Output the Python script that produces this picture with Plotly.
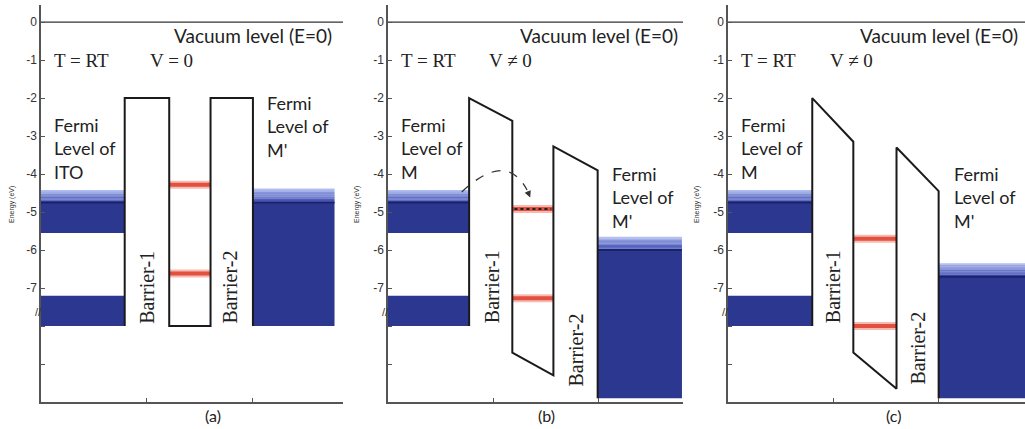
import plotly.graph_objects as go

# ---- energy-level data (eV), one entry per panel (a), (b), (c) ----
panel_labels = ["(a)", "(b)", "(c)"]
bias_labels = ["V = 0", "V \u2260 0", "V \u2260 0"]
left_contact_names = ["ITO", "M", "M"]

# x edges: contact | barrier-1 | well | barrier-2 | contact
edge_x = [
    [0.79, 1.21, 1.60, 2.00],
    [0.77, 1.18, 1.57, 1.99],
    [0.80, 1.19, 1.60, 2.00],
]
x_end = [2.85, 2.80, 2.82]
right_block_end = [2.77, 2.79, 2.82]

barrier1_top = [[-2.0, -2.0], [-2.0, -2.6], [-2.0, -3.15]]
well_bottom = [[-8.0, -8.0], [-8.7, -9.3], [-8.7, -9.65]]
barrier2_top = [[-2.0, -2.0], [-3.27, -3.9], [-3.3, -4.45]]

# left contact (same in all panels)
left_top = -4.42
left_fermi = -4.75
left_band_bottom = -5.55
left_lower_top = -7.2
left_bottom = -8.0

# right contact
right_top = [-4.38, -5.65, -6.35]
right_fermi = [-4.75, -6.0, -6.7]
right_bottom = [-8.0, -9.9, -9.9]

# trap levels inside the well
trap_upper = [-4.28, -4.92, -5.70]
trap_lower = [-6.62, -7.27, -8.00]

y_ticks = [0, -1, -2, -3, -4, -5, -6, -7, -8, -9]
y_tick_text = ["0", "-1", "-2", "-3", "-4", "-5", "-6", "-7", "", ""]

# ---- styling ----
DARK = "#2c378f"
FERMI_LINE = "#1b226a"
GRAD_TOP = (178, 192, 242)
GRAD_BOT = (58, 74, 178)
OUTLINE = "#1a1a1a"
AXIS = "#555555"
SANS = "Lato, Open Sans, sans-serif"
SERIF = "Liberation Serif, Times New Roman, serif"

W, H = 1025, 429
x_domains = [[41 / W, 343 / W], [388 / W, 683 / W], [728 / W, 1.0]]
y_domain = [1 - 402 / H, 1 - 5 / H]

fig = go.Figure()
shapes = []
annotations = []


def mix(c0, c1, t):
    return "rgb(%d,%d,%d)" % tuple(round(a + (b - a) * t) for a, b in zip(c0, c1))


def gradient(xr, yr, x0, x1, ytop, ybot, n=16):
    # stacked thin rectangles fading from light to medium blue
    step = (ytop - ybot) / n
    for k in range(n):
        t = (k / (n - 1)) ** 0.8
        shapes.append(dict(type="rect", xref=xr, yref=yr, layer="below",
                           x0=x0, x1=x1, y0=ytop - k * step, y1=ytop - (k + 1) * step - 0.005,
                           fillcolor=mix(GRAD_TOP, GRAD_BOT, t), line_width=0))


def rect(xr, yr, x0, x1, y0, y1, color):
    shapes.append(dict(type="rect", xref=xr, yref=yr, layer="below",
                       x0=x0, x1=x1, y0=y0, y1=y1, fillcolor=color, line_width=0))


for i in range(3):
    xr = "x" if i == 0 else "x%d" % (i + 1)
    yr = "y" if i == 0 else "y%d" % (i + 1)
    e0, e1, e2, e3 = edge_x[i]

    # vacuum level
    fig.add_trace(go.Scatter(x=[0, x_end[i]], y=[0, 0], mode="lines", xaxis=xr, yaxis=yr,
                             line=dict(color="#333333", width=1.2), hoverinfo="skip"))

    # left contact
    gradient(xr, yr, 0, e0, left_top, left_fermi)
    rect(xr, yr, 0, e0, left_fermi, left_band_bottom, DARK)
    rect(xr, yr, 0, e0, left_lower_top, left_bottom, DARK)
    fig.add_trace(go.Scatter(x=[0, e0], y=[left_fermi, left_fermi], mode="lines",
                             xaxis=xr, yaxis=yr, line=dict(color=FERMI_LINE, width=2),
                             hoverinfo="skip"))

    # right contact
    gradient(xr, yr, e3, right_block_end[i], right_top[i], right_fermi[i])
    rect(xr, yr, e3, right_block_end[i], right_fermi[i], right_bottom[i], DARK)
    fig.add_trace(go.Scatter(x=[e3, right_block_end[i]], y=[right_fermi[i]] * 2, mode="lines",
                             xaxis=xr, yaxis=yr, line=dict(color=FERMI_LINE, width=2),
                             hoverinfo="skip"))

    # trap levels in the well
    for lvl in (trap_upper[i], trap_lower[i]):
        fig.add_trace(go.Scatter(x=[e1, e2], y=[lvl, lvl], mode="lines", xaxis=xr, yaxis=yr,
                                 line=dict(color="rgba(242,140,128,0.6)", width=8),
                                 hoverinfo="skip"))
        fig.add_trace(go.Scatter(x=[e1, e2], y=[lvl, lvl], mode="lines", xaxis=xr, yaxis=yr,
                                 line=dict(color="#e2503f", width=4), hoverinfo="skip"))

    # barrier outline
    bx = [e0, e0, e1, e1, e2, e2, e3, e3]
    by = [left_bottom, barrier1_top[i][0], barrier1_top[i][1], well_bottom[i][0],
          well_bottom[i][1], barrier2_top[i][0], barrier2_top[i][1], right_bottom[i]]
    fig.add_trace(go.Scatter(x=bx, y=by, mode="lines", xaxis=xr, yaxis=yr,
                             line=dict(color=OUTLINE, width=2), hoverinfo="skip"))

    # text
    annotations += [
        dict(xref=xr, yref=yr, x=2.0, y=-0.34, text="Vacuum level (E=0)", showarrow=False,
             font=dict(family=SANS, size=19, color="#222")),
        dict(xref=xr, yref=yr, x=0.1, y=-1.0, text="T = RT", showarrow=False, xanchor="left",
             font=dict(family=SERIF, size=19, color="#222")),
        dict(xref=xr, yref=yr, x=[1.01, 0.94, 0.95][i], y=-1.0, text=bias_labels[i],
             showarrow=False, xanchor="left", font=dict(family=SERIF, size=19, color="#222")),
        dict(xref=xr, yref=yr, x=0.1, y=-3.32,
             text="Fermi<br>Level of<br>" + left_contact_names[i], showarrow=False,
             xanchor="left", align="left", font=dict(family=SANS, size=18, color="#222")),
        dict(xref=xr, yref=yr, x=[2.11, 2.11, 2.13][i], y=[-2.76, -4.63, -4.63][i],
             text="Fermi<br>Level of<br>M'", showarrow=False,
             xanchor="left", align="left", font=dict(family=SANS, size=18, color="#222")),
        dict(xref=xr, yref=yr, x=[1.0, 0.99, 1.0][i], y=-6.97, text="Barrier-1",
             showarrow=False, textangle=-90, font=dict(family=SERIF, size=20, color="#222")),
        dict(xref=xr, yref=yr, x=[1.78, 1.78, 1.80][i], y=[-6.97, -8.63, -8.58][i],
             text="Barrier-2", showarrow=False, textangle=-90,
             font=dict(family=SERIF, size=20, color="#222")),
        dict(xref=xr, yref="paper", x=[1.62, 1.5, 1.57][i], y=1 - 415 / H, text=panel_labels[i],
             showarrow=False, yanchor="middle",
             font=dict(family=SANS, size=16, color="#222")),
        dict(xref="paper", yref="paper", x=[12, 357, 697][i] / W, y=1 - 205 / H,
             xanchor="center", yanchor="middle",
             text="Energy (eV)", showarrow=False, textangle=-90,
             font=dict(family="Arial, sans-serif", size=7, color="#333")),
        dict(xref="paper", yref="paper", x=x_domains[i][0] - 3 / W, y=1 - 312 / H, text="//",
             xanchor="center", yanchor="middle",
             showarrow=False, font=dict(family="Arial, sans-serif", size=11, color="#333")),
    ]

# dotted marker on the occupied trap level and the tunnelling arrow in (b)
fig.add_trace(go.Scatter(x=[edge_x[1][1] + 0.02, edge_x[1][2] - 0.02], y=[trap_upper[1]] * 2,
                         mode="lines", xaxis="x2", yaxis="y2",
                         line=dict(color="#222", width=2, dash="dot"), hoverinfo="skip"))
shapes.append(dict(type="path", xref="x2", yref="y2",
                   path="M 0.70,-4.47 Q 1.12,-3.38 1.32,-4.42",
                   line=dict(color="#333", width=1.3, dash="dash")))
annotations.append(dict(xref="x2", yref="y2", axref="x2", ayref="y2", x=1.35, y=-4.62,
                        ax=1.32, ay=-4.42, showarrow=True, arrowhead=2, arrowsize=1,
                        arrowwidth=1.3, arrowcolor="#333", text=""))

axis_common = dict(showline=True, linecolor=AXIS, linewidth=1.5, showgrid=False,
                   zeroline=False, ticks="inside", ticklen=4, tickcolor=AXIS)
layout = dict(width=W, height=H, margin=dict(l=0, r=0, t=0, b=0),
              paper_bgcolor="white", plot_bgcolor="white", showlegend=False,
              shapes=shapes, annotations=annotations)
for i in range(3):
    sx = "" if i == 0 else str(i + 1)
    layout["xaxis" + sx] = dict(domain=x_domains[i], range=[0, x_end[i]], tickvals=[1, 2],
                                showticklabels=False, anchor="y" + sx, **axis_common)
    layout["yaxis" + sx] = dict(domain=y_domain, range=[-10, 0.45], tickvals=y_ticks,
                                ticktext=y_tick_text, anchor="x" + sx,
                                tickfont=dict(family="Arial, sans-serif", size=12, color="#333"),
                                **axis_common)
fig.update_layout(**layout)

fig.write_html("out.html")
